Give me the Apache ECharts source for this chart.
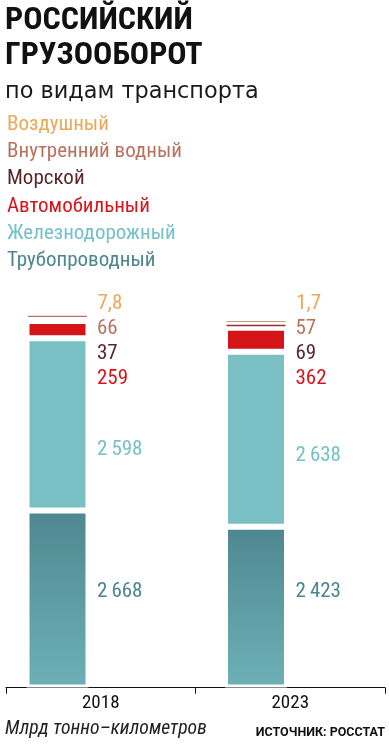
<!DOCTYPE html>
<html><head><meta charset="utf-8">
<script src="https://cdn.jsdelivr.net/npm/echarts@6/dist/echarts.min.js"></script>
<style>html,body{margin:0;padding:0;background:#fff}#c{width:389px;height:754px}</style>
</head><body><div id="c"></div>
<script>
// ---- data ----
const years = ['2018', '2023'];
const pipeline = [2668, 2423];   // Трубопроводный
const rail = [2598, 2638];       // Железнодорожный
const road = [259, 362];         // Автомобильный
const sea = [37, 69];            // Морской
const river = [66, 57];          // Внутренний водный
const air = [7.8, 1.7];          // Воздушный
const legendOrder = ['Воздушный', 'Внутренний водный', 'Морской', 'Автомобильный', 'Железнодорожный', 'Трубопроводный'];

// ---- styles / layout ----
const COND = '"Roboto Condensed", "Liberation Sans", Arial, sans-serif';
const barColors = {
  'Трубопроводный': new echarts.graphic.LinearGradient(0, 0, 0, 1, [{offset: 0, color: '#4f878f'}, {offset: 1, color: '#6cb1b7'}]),
  'Железнодорожный': '#79bfc4',
  'Автомобильный': '#d51419',
  'Морской': '#8a3437',
  'Внутренний водный': '#b9735c',
  'Воздушный': '#eaa95b'
};
const borderWidths = {
  'Трубопроводный': 3, 'Железнодорожный': 3, 'Автомобильный': 3,
  'Морской': 1.5, 'Внутренний водный': 1.5, 'Воздушный': 1.5
};
const textColors = {
  'Трубопроводный': '#4c8690',
  'Железнодорожный': '#74c1c9',
  'Автомобильный': '#d8141b',
  'Морской': '#5a2628',
  'Внутренний водный': '#b7735e',
  'Воздушный': '#eca85a'
};
// vertical centre of each value label, per category
const labelRowY = {
  'Воздушный': [304.2, 304.2],
  'Внутренний водный': [329.2, 329.2],
  'Морской': [354.2, 354.2],
  'Автомобильный': [378.5, 378.5],
  'Железнодорожный': [449.5, 455.3],
  'Трубопроводный': [591.5, 591.5]
};

function fmt(v) {
  if (v >= 1000) {
    const t = Math.floor(v / 1000), r = String(Math.round(v % 1000)).padStart(3, '0');
    return t + '\u2009' + r;
  }
  return String(v).replace('.', ',');
}

const seriesList = [
  ['Трубопроводный', pipeline],
  ['Железнодорожный', rail],
  ['Автомобильный', road],
  ['Морской', sea],
  ['Внутренний водный', river],
  ['Воздушный', air]
];

const chart = echarts.init(document.getElementById('c'), null, {renderer: 'canvas'});
chart.setOption({
  backgroundColor: '#ffffff',
  animation: false,
  title: [
    {text: 'РОССИЙСКИЙ\nГРУЗООБОРОТ', left: 5, top: 3.2, padding: 0,
     textStyle: {fontFamily: COND, fontWeight: 'bold', fontSize: 32, lineHeight: 35.5, color: '#111111'}},
    {text: 'по видам транспорта', left: 5, top: 79.8, padding: 0,
     textStyle: {fontFamily: '"DejaVu Sans", sans-serif', fontWeight: 'normal', fontSize: 22.4, lineHeight: 24, color: '#1a1a1a'}},
    {text: 'Млрд тонно–километров', left: 5, top: 719.5, padding: 0,
     textStyle: {fontFamily: COND, fontStyle: 'italic', fontWeight: 'normal', fontSize: 19.7, lineHeight: 19.7, color: '#222222'}},
    {text: 'ИСТОЧНИК: РОССТАТ', right: 4, top: 726.2, padding: 0,
     textStyle: {fontFamily: 'Roboto, sans-serif', fontWeight: 'bold', fontSize: 12.5, lineHeight: 12.5, color: '#111111'}}
  ],
  legend: {
    orient: 'vertical', left: 1, top: 110.7, padding: 0, itemGap: 0,
    itemWidth: 0, itemHeight: 0, icon: 'rect', selectedMode: false,
    textStyle: {fontFamily: COND, fontSize: 21, lineHeight: 27.3},
    data: legendOrder.map(n => ({name: n, itemStyle: {opacity: 0}, textStyle: {color: textColors[n]}}))
  },
  grid: [
    {left: 6, right: 4, top: 290, bottom: 66.3},
    {left: 57.5, right: 133, top: 289.5, bottom: 66.5}
  ],
  xAxis: [
    {type: 'category', gridIndex: 0, data: years, boundaryGap: true,
     axisLine: {show: true, lineStyle: {color: '#111', width: 1}},
     axisTick: {show: true, length: 6, interval: 0, lineStyle: {color: '#111', width: 1}},
     axisLabel: {margin: 6, fontFamily: COND, fontSize: 19, color: '#111'}},
    {type: 'category', gridIndex: 1, data: years, boundaryGap: false, show: false}
  ],
  yAxis: [
    {type: 'value', gridIndex: 0, show: false, min: 0, max: 6000},
    {type: 'value', gridIndex: 1, show: false, min: 0, max: 6000}
  ],
  series: seriesList.map(([name, values]) => ({
    name: name, type: 'bar', stack: 'total', xAxisIndex: 1, yAxisIndex: 1,
    barWidth: 62, clip: false, data: values,
    itemStyle: {color: barColors[name], borderColor: '#ffffff', borderWidth: borderWidths[name]},
    label: {show: true, position: 'right', formatter: p => fmt(p.value),
            fontFamily: COND, fontSize: 21, color: textColors[name]},
    labelLayout: p => ({x: p.rect.x + p.rect.width + 8.5, y: labelRowY[name][p.dataIndex],
                        align: 'left', verticalAlign: 'middle'})
  }))
});
</script></body></html>
